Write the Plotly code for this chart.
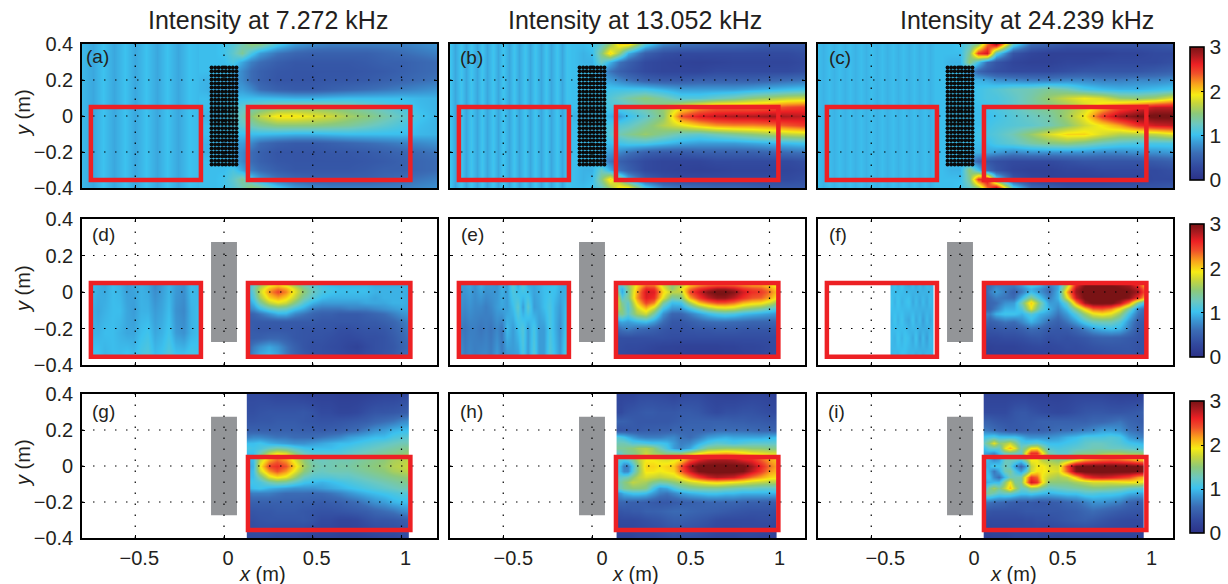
import plotly.graph_objects as go

TITLES = ["Intensity at 7.272 kHz", "Intensity at 13.052 kHz", "Intensity at 24.239 kHz"]
LETTERS = ["(a)", "(b)", "(c)", "(d)", "(e)", "(f)", "(g)", "(h)", "(i)"]
X_TICKS = [-0.5, 0, 0.5, 1]
Y_TICKS = [-0.4, -0.2, 0, 0.2, 0.4]
CBAR_TICKS = [0, 1, 2, 3]

JET = [[0, "#2b3187"], [0.1, "#324a9f"], [0.2, "#3b6cb5"], [0.28, "#3b9ad6"], [0.34, "#3cc2ef"],
       [0.42, "#6cc8c0"], [0.5, "#8cc97a"], [0.58, "#c9d63a"], [0.64, "#f7ec14"], [0.72, "#f9a51c"],
       [0.8, "#f0512a"], [0.87, "#ec2024"], [0.94, "#a81a1f"], [1, "#7a1315"]]

# top row grid
XT = [-0.8, -0.5, -0.2, -0.1, -0.05, 0, 0.05, 0.1, 0.15, 0.2, 0.3, 0.4, 0.5, 0.6, 0.7, 0.8, 0.9, 1.0, 1.1, 1.2]
YF = [0.4, 0.35, 0.3, 0.25, 0.2, 0.15, 0.1, 0.05, 0, -0.05, -0.1, -0.15, -0.2, -0.25, -0.3, -0.35, -0.4]

Z_A = [
 [1.0,.95,1.0,1.0,1.0,1.05,1.15,1.3,1.5,1.45,1.1,.85,.75,.7,.7,.7,.7,.7,.75,.8],
 [1.0,1.0,1.0,1.0,1.0,1.05,1.2,1.4,1.1,.85,.65,.55,.5,.5,.5,.5,.55,.6,.65,.7],
 [1.0,.95,1.0,1.0,1.0,1.0,1.1,.9,.7,.6,.48,.42,.42,.42,.42,.45,.5,.5,.55,.6],
 [1.0,1.0,1.0,1.0,1.0,1.0,.9,.75,.6,.5,.42,.4,.4,.4,.4,.42,.45,.5,.55,.6],
 [.95,1.0,1.0,.95,.95,.95,.85,.75,.6,.5,.4,.4,.4,.42,.42,.45,.5,.55,.6,.65],
 [1.0,1.0,1.0,.95,.9,.9,.85,.85,.75,.6,.5,.45,.45,.5,.55,.6,.65,.7,.75,.8],
 [1.0,1.0,1.0,1.0,.95,1.0,1.0,1.0,1.0,1.0,.98,.95,.95,.98,1.0,1.0,1.0,1.0,.97,.95],
 [1.0,1.0,1.0,1.0,1.0,1.0,1.1,1.2,1.3,1.35,1.45,1.5,1.5,1.45,1.4,1.3,1.2,1.1,1.0,.95],
 [1.0,.95,1.0,.95,.95,1.0,1.15,1.3,1.5,1.7,1.95,1.95,1.85,1.75,1.6,1.5,1.35,1.2,1.05,.95],
 [1.0,1.0,1.0,1.0,1.0,1.0,1.1,1.2,1.3,1.4,1.5,1.5,1.5,1.45,1.4,1.3,1.2,1.1,1.0,.95],
 [1.0,1.0,1.0,1.0,1.0,1.0,1.0,1.0,1.0,1.0,.98,.95,.95,.98,1.0,1.0,1.0,1.0,.97,.95],
 [1.0,1.0,1.0,.95,.95,.9,.85,.85,.75,.6,.5,.45,.45,.5,.55,.6,.65,.7,.75,.8],
 [.95,1.0,1.0,.95,.95,.95,.85,.75,.6,.5,.4,.4,.4,.42,.42,.45,.5,.55,.6,.65],
 [1.0,1.0,1.0,1.0,1.0,1.0,.9,.75,.6,.5,.42,.4,.4,.4,.4,.42,.45,.5,.55,.6],
 [1.0,.95,1.0,1.0,1.0,1.0,1.1,.9,.7,.6,.48,.42,.42,.42,.42,.45,.5,.5,.55,.6],
 [1.0,1.0,1.0,1.0,1.0,1.05,1.2,1.4,1.1,.85,.65,.55,.5,.5,.5,.5,.55,.6,.65,.7],
 [1.0,.95,1.0,1.0,1.0,1.05,1.15,1.3,1.55,1.45,1.1,.85,.75,.7,.7,.7,.7,.7,.75,.8],
]
Z_B = [
 [1.0,1.0,1.0,1.0,1.0,1.05,1.2,1.55,2.0,2.0,1.15,.75,.65,.6,.55,.55,.5,.45,.45,.45],
 [1.0,1.0,1.0,1.0,.95,1.0,1.45,2.0,1.55,.95,.5,.35,.3,.3,.3,.3,.3,.3,.3,.35],
 [1.0,1.0,1.0,1.0,.95,.95,1.25,.95,.65,.5,.3,.25,.22,.2,.22,.25,.25,.25,.25,.3],
 [1.0,1.0,1.0,1.0,1.0,1.0,.85,.65,.5,.42,.3,.25,.25,.25,.3,.3,.3,.3,.3,.35],
 [1.0,1.0,1.0,1.0,1.0,1.0,.9,.85,.75,.65,.5,.45,.45,.5,.5,.5,.5,.55,.6,.65],
 [1.0,1.0,1.0,1.0,1.0,1.0,1.0,1.05,1.05,1.05,1.05,.95,.85,.85,.85,.85,.9,.95,1.0,1.05],
 [1.0,1.0,1.0,1.0,1.0,1.0,1.05,1.15,1.25,1.35,1.5,1.35,1.15,1.15,1.25,1.35,1.5,1.6,1.7,1.75],
 [1.0,1.0,1.0,1.0,1.0,1.0,1.05,1.1,1.15,1.2,1.35,1.55,1.9,2.15,2.3,2.3,2.3,2.35,2.45,2.5],
 [1.0,1.0,1.0,.95,.95,1.0,1.0,.95,.85,1.0,1.2,1.5,2.4,2.65,2.75,2.8,2.8,2.85,2.8,2.75],
 [1.0,1.0,1.0,1.0,1.0,1.0,1.05,1.1,1.15,1.2,1.4,1.65,1.85,2.05,2.2,2.25,2.25,2.3,2.4,2.5],
 [1.0,1.0,1.0,1.0,1.0,1.0,1.05,1.15,1.3,1.4,1.55,1.4,1.25,1.2,1.3,1.4,1.5,1.6,1.7,1.75],
 [1.0,1.0,1.0,1.0,1.0,1.0,1.0,1.0,1.05,1.1,1.1,1.0,.9,.85,.85,.85,.9,.95,1.0,1.05],
 [1.0,1.0,1.0,1.0,1.0,1.0,.9,.85,.75,.65,.5,.45,.45,.5,.5,.5,.5,.55,.6,.65],
 [1.0,1.0,1.0,1.0,1.0,1.0,.85,.65,.5,.42,.3,.25,.25,.25,.3,.3,.3,.3,.3,.35],
 [1.0,1.0,1.0,1.0,.95,.95,1.25,.95,.65,.5,.3,.25,.22,.2,.22,.25,.25,.25,.25,.3],
 [1.0,1.0,1.0,1.0,.95,1.0,1.45,2.0,1.55,.95,.5,.35,.3,.3,.3,.3,.3,.3,.3,.35],
 [1.0,1.0,1.0,1.0,1.0,1.05,1.2,1.55,2.0,2.0,1.15,.75,.65,.6,.55,.55,.5,.45,.45,.45],
]
Z_C = [
 [1.0,1.0,1.0,1.0,1.0,1.05,1.2,1.5,2.3,2.85,1.2,.6,.5,.4,.4,.4,.4,.4,.4,.45],
 [1.0,1.0,1.0,1.0,1.0,1.0,1.4,2.5,2.7,1.2,.4,.25,.2,.2,.2,.2,.25,.25,.3,.3],
 [1.0,1.0,1.0,1.0,.95,.95,1.5,1.05,.6,.4,.25,.2,.2,.25,.25,.3,.3,.3,.3,.35],
 [1.0,1.0,1.0,1.0,1.0,1.0,.8,.55,.42,.35,.3,.3,.3,.35,.4,.4,.4,.4,.45,.5],
 [1.0,1.0,1.0,1.0,1.0,1.0,.95,.95,.9,.8,.75,.7,.7,.75,.75,.7,.7,.75,.75,.8],
 [1.0,1.0,1.0,1.0,1.0,1.0,1.0,1.05,1.1,1.15,1.25,1.3,1.4,1.3,1.1,1.0,.95,.95,1.0,1.05],
 [1.0,1.0,1.0,1.0,1.0,1.0,1.0,1.05,1.1,1.1,1.2,1.35,1.55,1.75,1.9,1.8,1.55,1.5,1.6,1.85],
 [1.0,1.0,1.0,1.0,1.0,1.0,1.0,1.0,1.05,1.1,1.2,1.35,1.45,1.55,1.75,2.05,2.4,2.6,2.75,2.75],
 [1.0,1.0,1.0,1.0,1.0,1.0,1.0,1.0,1.0,1.05,1.15,1.25,1.35,1.6,1.9,2.5,2.85,3.0,3.05,3.05],
 [1.0,1.0,1.0,1.0,1.0,1.0,1.0,1.0,1.05,1.1,1.15,1.2,1.3,1.5,1.75,1.95,2.2,2.55,2.7,2.75],
 [1.0,1.0,1.0,1.0,1.0,1.0,1.0,1.05,1.1,1.15,1.3,1.55,1.8,2.0,2.0,1.8,1.65,1.65,1.7,1.85],
 [1.0,1.0,1.0,1.0,1.0,1.0,1.0,1.0,1.0,1.1,1.2,1.35,1.45,1.5,1.4,1.25,1.15,1.1,1.1,1.1],
 [1.0,1.0,1.0,1.0,1.0,1.0,.95,.95,.9,.85,.75,.8,.8,.8,.8,.75,.75,.8,.8,.85],
 [1.0,1.0,1.0,1.0,1.0,1.0,.8,.55,.42,.35,.3,.3,.3,.35,.4,.4,.4,.4,.45,.5],
 [1.0,1.0,1.0,1.0,.95,.95,1.5,1.05,.6,.4,.25,.2,.2,.25,.25,.3,.3,.3,.3,.35],
 [1.0,1.0,1.0,1.0,1.0,1.0,1.4,2.5,2.7,1.2,.4,.25,.2,.2,.2,.2,.25,.25,.3,.3],
 [1.0,1.0,1.0,1.0,1.0,1.05,1.2,1.5,2.3,2.85,1.2,.6,.5,.4,.4,.4,.4,.4,.4,.45],
]

# faint ripples on the incident side of the top row
Y_RIP = [0.4, -0.4]
X_RIP_A = [-0.8,-0.74,-0.68,-0.62,-0.56,-0.5,-0.44,-0.38,-0.32,-0.26,-0.2,-0.14]
Z_RIP_A = [.98,.9,1.02,.9,1.02,.9,1.02,.9,1.02,.9,1.02,.98]
X_RIP_B = [-0.8,-0.77,-0.74,-0.71,-0.68,-0.65,-0.62,-0.59,-0.56,-0.53,-0.5,-0.47,-0.44,-0.41,-0.38,-0.35,-0.32,-0.29,-0.26,-0.23,-0.2,-0.17,-0.14,-0.11]
Z_RIP_B = [1.04,.9,1.04,.9,1.04,.9,1.04,.9,1.04,.9,1.04,.9,1.04,.9,1.04,.9,1.04,.9,1.04,.9,1.04,.9,1.04,1.0]
X_RIP_C = [-0.8,-0.77,-0.74,-0.71,-0.68,-0.65,-0.62,-0.59,-0.56,-0.53,-0.5,-0.47,-0.44,-0.41,-0.38,-0.35,-0.32,-0.29,-0.26,-0.23,-0.2,-0.17,-0.14,-0.11]
Z_RIP_C = [1.0,.95,1.0,.95,1.0,.95,1.0,.95,1.0,.95,1.0,.95,1.0,.95,1.0,.95,1.0,.95,1.0,.95,1.0,.95,1.0,1.0]

# middle row: left patches (stripes)
X_D_L = [-0.75,-0.71,-0.67,-0.63,-0.59,-0.55,-0.51,-0.47,-0.43,-0.39,-0.35,-0.31,-0.27,-0.23,-0.19,-0.15,-0.13]
Y_D_L = [0.05, -0.1, -0.22, -0.36]
Z_D_L = [
 [1.0,.95,.9,1.0,.95,.85,.9,.95,.9,.75,.85,.95,.85,.8,1.0,.95,.9],
 [.95,.9,.95,1.0,1.0,.9,.85,.95,.95,.85,.9,1.0,.8,.75,.95,1.0,.9],
 [.95,.95,1.0,1.0,.95,.9,.9,1.0,1.05,.9,.95,1.05,.85,.8,.95,1.0,.95],
 [1.05,1.05,.95,1.0,1.0,1.05,1.0,1.1,1.15,1.0,1.05,1.15,1.05,1.05,1.1,1.05,1.0],
]
X_E_L = [-0.75,-0.72,-0.69,-0.66,-0.63,-0.6,-0.57,-0.54,-0.51,-0.48,-0.45,-0.42,-0.39,-0.36,-0.33,-0.3,-0.27,-0.24,-0.21,-0.18,-0.15,-0.13]
Y_E_L = [0.05, -0.08, -0.2, -0.36]
Z_E_L = [
 [.85,.85,.9,.8,.95,.85,.85,.8,.95,.85,1.2,.9,1.2,.9,.9,.95,1.0,1.0,1.05,.95,.9,.9],
 [.8,.75,.8,.75,.75,.7,.75,.85,.9,.85,1.0,1.2,.85,1.2,.85,.9,1.0,1.1,.95,.85,1.0,.85],
 [.7,.65,.7,.7,.65,.7,.65,.75,.65,1.0,.85,1.0,1.15,.85,1.1,.85,.85,1.1,.95,.8,1.05,.85],
 [.85,.7,.75,.7,.75,.75,.7,.85,.7,.8,.85,.85,1.1,.85,1.15,.85,.85,1.15,1.0,.85,1.15,.95],
]
X_F_L = [-0.39,-0.37,-0.35,-0.33,-0.31,-0.29,-0.27,-0.25,-0.23,-0.21,-0.19,-0.17,-0.15]
Y_F_L = [0.05, -0.05, -0.15, -0.25, -0.36]
Z_F_L = [
 [.95,1.05,.95,1.05,.95,.9,1.0,.9,1.0,.9,1.0,.95,1.0],
 [1.05,.95,1.05,.95,1.0,1.05,.9,1.0,.9,1.0,.9,1.0,.95],
 [.95,1.05,.95,1.05,.95,.9,1.05,.9,1.0,.85,1.0,.9,1.0],
 [1.0,.95,1.05,.95,1.05,1.0,.9,1.05,.85,1.0,.85,1.0,.95],
 [.95,1.0,.95,1.05,1.0,.95,1.0,.9,1.0,.9,1.0,.95,1.0],
]

# middle row: right patches
X_R = [0.135,0.17,0.2,0.25,0.3,0.35,0.4,0.45,0.5,0.55,0.6,0.65,0.7,0.75,0.8,0.85,0.9,0.95,1.0,1.05]
Y_R = [0.05,0.02,0,-0.03,-0.06,-0.09,-0.12,-0.16,-0.2,-0.25,-0.3,-0.36]
Z_D_R = [
 [1.0,1.2,1.45,1.7,1.85,1.7,1.45,1.25,1.1,1.0,.95,.95,.95,.95,.95,.9,.9,.9,.9,.9],
 [1.0,1.3,1.7,2.1,2.3,2.15,1.8,1.45,1.25,1.1,1.05,1.0,1.0,1.0,1.0,.95,.95,.95,.95,.9],
 [.95,1.25,1.75,2.2,2.45,2.25,1.85,1.5,1.25,1.1,1.05,1.0,1.0,1.0,1.0,.95,.95,.95,.95,.9],
 [.9,1.15,1.6,2.0,2.15,2.0,1.7,1.35,1.15,1.0,.95,.95,.95,.95,.95,.9,.95,.95,.95,.9],
 [.8,1.0,1.35,1.7,1.85,1.75,1.45,1.15,.95,.85,.85,.85,.85,.85,.9,.9,.9,.95,.95,.9],
 [.7,.8,1.0,1.2,1.3,1.25,1.05,.9,.7,.65,.65,.65,.7,.7,.7,.75,.8,.85,.9,.9],
 [.5,.55,.65,.8,.95,.95,.75,.65,.55,.5,.5,.45,.45,.45,.5,.55,.6,.7,.8,.85],
 [.45,.45,.45,.45,.45,.45,.45,.45,.45,.42,.42,.42,.42,.42,.45,.45,.5,.55,.65,.75],
 [.45,.45,.42,.42,.42,.42,.42,.4,.4,.4,.4,.35,.35,.38,.4,.4,.42,.5,.6,.7],
 [.48,.48,.5,.55,.55,.5,.42,.4,.38,.38,.35,.32,.3,.32,.35,.35,.38,.45,.55,.65],
 [.55,.7,.8,.9,.8,.65,.5,.4,.35,.35,.32,.3,.25,.22,.3,.35,.38,.42,.52,.6],
 [.6,.8,.95,1.0,.9,.7,.55,.45,.38,.35,.35,.32,.3,.3,.35,.35,.4,.45,.55,.65],
]
Z_E_R = [
 [1.0,1.35,1.6,1.9,2.1,2.1,1.7,1.5,1.55,1.9,2.0,2.1,2.1,2.1,2.1,2.05,2.0,2.0,1.9,1.7],
 [1.35,.95,1.45,2.05,2.6,2.55,1.9,1.5,1.85,2.3,2.55,2.7,2.85,2.85,2.75,2.55,2.45,2.4,2.2,1.9],
 [1.7,.9,1.4,2.15,2.7,2.65,2.0,1.7,1.7,2.45,2.7,2.95,3.05,3.05,2.95,2.7,2.55,2.5,2.3,2.0],
 [2.0,1.15,1.4,2.2,2.65,2.55,1.85,1.35,1.45,2.15,2.5,2.75,2.9,2.9,2.75,2.55,2.4,2.35,2.15,1.85],
 [1.95,1.4,1.2,2.0,2.45,2.25,1.4,1.0,1.05,1.6,2.05,2.25,2.4,2.4,2.3,2.1,2.0,1.95,1.75,1.45],
 [1.7,1.5,1.15,1.75,2.05,1.7,1.05,.8,.8,1.05,1.3,1.55,1.7,1.75,1.7,1.55,1.45,1.35,1.2,1.05],
 [1.35,1.45,1.2,1.6,1.75,1.35,.8,.55,.55,.7,.85,1.0,1.1,1.15,1.1,1.0,.95,.9,.85,.8],
 [.8,.9,.85,.95,1.0,.85,.6,.42,.42,.48,.55,.6,.62,.62,.6,.58,.55,.55,.55,.55],
 [.55,.65,.7,.6,.55,.5,.42,.38,.38,.4,.42,.42,.45,.45,.45,.42,.42,.42,.42,.4],
 [.35,.35,.35,.35,.35,.35,.35,.33,.33,.33,.33,.33,.33,.33,.33,.33,.33,.33,.33,.33],
 [.32,.32,.3,.3,.28,.25,.22,.22,.2,.2,.2,.2,.2,.22,.22,.25,.25,.27,.3,.3],
 [.3,.3,.28,.25,.22,.2,.2,.2,.2,.18,.18,.18,.18,.2,.2,.22,.25,.27,.3,.3],
]
Z_F_R = [
 [.55,.6,.65,.7,.75,.95,1.25,1.1,.75,.9,1.55,2.5,2.95,3.0,3.0,2.95,2.9,2.8,2.4,1.8],
 [.55,.65,.8,.7,.6,.75,.95,.8,.6,.9,1.9,2.8,3.05,3.05,3.05,3.05,3.0,2.95,2.75,2.1],
 [.5,.7,.85,.7,.5,.7,1.0,.8,.6,.95,2.15,2.85,3.05,3.05,3.05,3.05,3.05,3.0,2.85,2.25],
 [.5,.6,.7,.65,.6,1.0,1.45,1.05,.7,.95,1.85,2.7,3.05,3.05,3.05,3.05,3.05,2.95,2.55,1.9],
 [.5,.55,.6,.8,.85,1.35,2.05,1.4,.85,.85,1.25,2.2,2.85,3.05,3.05,3.05,2.8,2.3,1.4,.9],
 [.5,.55,.7,.95,.95,1.15,1.85,1.25,.95,.75,1.0,1.5,2.0,2.35,2.4,2.25,1.9,1.35,.75,.55],
 [.75,.7,.95,1.05,1.05,.95,1.15,.95,.85,.65,.85,1.15,1.55,1.85,1.95,1.85,1.55,1.05,.65,.5],
 [.6,.5,.55,.65,.6,.75,.95,.8,.6,.5,.65,.85,1.1,1.25,1.3,1.3,1.15,.8,.5,.42],
 [.4,.4,.42,.45,.45,.5,.6,.55,.45,.42,.45,.55,.7,.85,.95,1.0,.95,.7,.45,.38],
 [.3,.3,.3,.33,.33,.35,.4,.42,.35,.38,.35,.38,.42,.48,.52,.52,.5,.45,.4,.35],
 [.2,.2,.22,.22,.22,.25,.28,.3,.28,.3,.33,.32,.35,.38,.4,.42,.42,.42,.38,.35],
 [.18,.18,.18,.18,.2,.2,.22,.22,.25,.25,.28,.3,.3,.3,.33,.35,.38,.4,.38,.35],
]

# bottom row
X_G = [0.13,0.16,0.2,0.25,0.3,0.35,0.4,0.45,0.5,0.55,0.6,0.65,0.7,0.75,0.8,0.85,0.9,0.95,1.0,1.04]
Y_B = [0.4,0.3,0.25,0.2,0.16,0.13,0.1,0.07,0.04,0,-0.03,-0.06,-0.09,-0.12,-0.15,-0.2,-0.25,-0.3,-0.4]
Z_G = [
 [.3,.3,.3,.28,.25,.25,.25,.22,.2,.2,.2,.18,.18,.18,.2,.22,.25,.25,.28,.3],
 [.35,.35,.38,.4,.4,.4,.4,.42,.38,.3,.3,.25,.25,.28,.35,.4,.4,.42,.45,.5],
 [.4,.4,.42,.42,.45,.45,.45,.42,.4,.38,.38,.4,.42,.45,.48,.55,.6,.65,.75,.8],
 [.5,.5,.5,.5,.5,.5,.5,.48,.48,.45,.48,.5,.55,.6,.7,.8,.85,.95,1.0,1.0],
 [.7,.75,.75,.7,.65,.65,.6,.6,.6,.65,.7,.75,.85,.9,.95,1.0,1.0,1.1,1.15,1.2],
 [1.0,1.0,1.05,.95,.9,.85,.8,.8,.85,.9,.95,1.0,1.0,1.05,1.1,1.15,1.2,1.25,1.3,1.3],
 [1.1,1.05,1.1,1.25,1.35,1.3,1.15,1.05,1.0,1.0,1.0,1.05,1.1,1.15,1.2,1.25,1.3,1.35,1.4,1.45],
 [1.0,1.0,1.3,1.7,1.9,1.8,1.5,1.25,1.15,1.15,1.15,1.15,1.2,1.25,1.3,1.35,1.4,1.45,1.5,1.55],
 [.95,1.0,1.7,2.1,2.3,2.15,1.8,1.5,1.3,1.25,1.3,1.3,1.3,1.35,1.4,1.45,1.5,1.6,1.65,1.7],
 [.9,.95,1.9,2.45,2.55,2.4,2.0,1.6,1.35,1.3,1.3,1.35,1.35,1.4,1.45,1.5,1.55,1.65,1.7,1.75],
 [.95,1.0,1.75,2.2,2.4,2.2,1.85,1.5,1.3,1.25,1.3,1.3,1.3,1.35,1.4,1.45,1.5,1.6,1.65,1.7],
 [1.0,1.0,1.35,1.8,1.95,1.85,1.55,1.25,1.15,1.15,1.15,1.2,1.2,1.25,1.3,1.35,1.4,1.45,1.5,1.55],
 [1.05,1.05,1.1,1.3,1.4,1.35,1.2,1.05,1.0,.95,1.0,1.05,1.1,1.15,1.2,1.25,1.3,1.35,1.4,1.45],
 [.95,1.0,1.05,.95,.9,.85,.8,.8,.8,.85,.9,.95,1.0,1.05,1.1,1.15,1.2,1.25,1.3,1.3],
 [.65,.7,.7,.7,.65,.6,.6,.6,.58,.6,.65,.72,.8,.88,.95,1.0,1.05,1.1,1.15,1.15],
 [.5,.5,.5,.5,.5,.5,.5,.48,.48,.45,.48,.5,.55,.6,.7,.8,.85,.95,1.0,1.0],
 [.4,.4,.42,.42,.45,.45,.45,.42,.4,.38,.38,.4,.42,.45,.48,.55,.6,.65,.75,.8],
 [.35,.35,.38,.4,.4,.4,.4,.42,.38,.3,.3,.25,.25,.28,.35,.4,.4,.42,.45,.5],
 [.3,.3,.3,.28,.25,.25,.25,.22,.2,.2,.2,.18,.18,.18,.2,.22,.25,.25,.28,.3],
]
X_H = [0.14,0.16,0.18,0.2,0.23,0.26,0.3,0.34,0.38,0.42,0.46,0.5,0.55,0.6,0.65,0.7,0.75,0.8,0.85,0.9,0.95,1.0,1.04]
Z_H = [
 [.25,.25,.25,.25,.25,.3,.3,.3,.3,.28,.25,.28,.3,.3,.25,.22,.2,.2,.22,.25,.25,.22,.2],
 [.3,.3,.35,.38,.4,.42,.45,.45,.42,.42,.42,.45,.45,.42,.35,.3,.35,.35,.38,.38,.35,.32,.3],
 [.55,.5,.5,.48,.45,.42,.42,.42,.42,.42,.45,.48,.5,.5,.5,.5,.5,.48,.48,.45,.45,.42,.42],
 [.4,.4,.42,.42,.45,.45,.48,.48,.5,.5,.55,.55,.55,.55,.55,.6,.6,.6,.6,.58,.55,.55,.5],
 [1.15,1.1,1.05,.95,.85,.75,.7,.7,.7,.75,.75,.65,.6,.7,.85,.9,.95,.9,.9,.9,.9,.95,1.0],
 [1.3,1.3,1.3,1.25,1.15,1.15,1.1,1.05,1.05,1.0,.85,.7,.75,.95,1.1,1.2,1.15,1.1,1.15,1.2,1.2,1.2,1.2],
 [1.4,1.4,1.4,1.45,1.5,1.6,1.65,1.55,1.3,1.1,.85,.75,.9,1.2,1.45,1.5,1.55,1.55,1.55,1.5,1.5,1.45,1.45],
 [1.2,1.25,1.35,1.4,1.45,1.55,1.75,1.6,1.55,1.45,1.5,1.5,1.7,1.9,2.05,2.1,2.15,2.1,2.0,1.9,1.85,1.8,1.8],
 [1.2,1.15,1.15,1.2,1.4,1.7,1.9,1.9,1.85,1.8,1.85,1.95,2.35,2.6,2.75,2.8,2.8,2.75,2.6,2.55,2.35,2.15,2.05],
 [1.1,.95,.7,.7,1.1,1.55,2.0,2.0,1.95,2.0,2.05,2.4,2.85,3.05,3.05,3.05,3.05,3.05,3.05,2.85,2.6,2.3,2.15],
 [1.1,.95,.75,.75,1.15,1.55,1.95,1.95,1.9,1.95,2.0,2.35,2.7,3.0,3.05,3.05,3.05,3.05,3.0,2.75,2.5,2.2,2.1],
 [1.2,1.2,1.25,1.3,1.5,1.7,1.8,1.75,1.7,1.75,1.8,1.95,2.25,2.5,2.7,2.8,2.75,2.7,2.5,2.3,2.15,2.0,1.95],
 [1.3,1.35,1.45,1.55,1.7,1.65,1.6,1.45,1.35,1.4,1.5,1.6,1.75,1.85,1.95,2.0,1.95,1.9,1.85,1.75,1.7,1.65,1.65],
 [1.25,1.3,1.4,1.45,1.5,1.5,1.45,1.1,.85,.9,1.1,1.25,1.35,1.4,1.4,1.4,1.35,1.3,1.25,1.25,1.2,1.2,1.2],
 [.8,.85,.95,1.0,1.05,1.05,1.0,.85,.7,.65,.75,.85,.95,1.0,1.05,1.05,1.0,1.0,.95,.95,.95,.95,.95],
 [.55,.55,.55,.52,.5,.5,.48,.45,.42,.42,.45,.48,.5,.52,.55,.55,.55,.55,.52,.5,.5,.48,.48],
 [.4,.4,.42,.42,.45,.45,.5,.5,.52,.55,.58,.58,.55,.52,.5,.48,.45,.42,.4,.38,.38,.38,.35],
 [.28,.3,.3,.3,.3,.32,.35,.38,.4,.45,.48,.48,.45,.42,.38,.32,.3,.3,.3,.3,.32,.32,.28],
 [.2,.2,.2,.2,.22,.25,.25,.25,.28,.3,.32,.3,.3,.28,.25,.22,.22,.22,.25,.25,.22,.2,.18],
]
X_I = [0.135,0.16,0.19,0.22,0.25,0.28,0.31,0.34,0.37,0.4,0.43,0.46,0.5,0.55,0.6,0.65,0.7,0.75,0.8,0.85,0.9,0.95,1.0,1.035]
Z_I = [
 [.22,.22,.22,.22,.22,.22,.22,.22,.22,.2,.2,.2,.2,.2,.22,.25,.25,.25,.25,.22,.2,.2,.2,.2],
 [.3,.3,.3,.3,.3,.35,.4,.42,.42,.38,.35,.32,.3,.28,.3,.35,.4,.42,.42,.4,.4,.42,.45,.5],
 [.5,.5,.45,.42,.4,.4,.42,.45,.45,.45,.48,.5,.5,.5,.5,.5,.5,.55,.55,.6,.65,.55,.5,.45],
 [.7,.65,.6,.55,.5,.45,.45,.45,.48,.5,.5,.5,.55,.6,.6,.65,.7,.75,.85,.85,.8,.65,.6,.55],
 [1.05,1.1,1.15,1.05,1.05,1.05,1.05,.95,.85,.8,.8,.8,.8,.85,.95,1.0,1.1,1.1,1.1,1.15,1.1,.85,.75,.7],
 [1.25,1.5,1.85,1.5,1.6,1.75,1.5,1.15,1.1,1.15,1.2,1.1,1.0,1.0,1.05,1.1,1.2,1.25,1.25,1.2,1.15,1.05,1.0,.95],
 [1.0,1.2,1.25,1.2,1.85,2.1,1.85,1.3,1.5,1.9,1.95,1.55,1.15,1.1,1.15,1.2,1.25,1.3,1.3,1.25,1.25,1.2,1.15,1.1],
 [.9,.85,.75,1.0,1.3,1.35,1.3,1.2,1.95,2.55,2.55,2.0,1.35,1.2,1.2,1.4,1.45,1.45,1.55,1.6,1.6,1.55,1.55,1.5],
 [1.05,.95,.75,.85,1.25,1.3,1.3,1.2,1.55,1.95,1.9,1.65,1.55,1.45,1.5,1.75,2.05,2.15,2.25,2.3,2.25,2.15,2.0,1.95],
 [.95,.95,1.1,1.05,1.3,1.2,.85,.55,.85,1.7,1.9,1.95,1.8,1.75,2.45,3.0,3.05,3.05,3.05,3.05,3.05,3.05,3.0,2.95],
 [1.1,.95,.65,.9,1.3,1.4,1.1,.85,1.15,1.75,1.95,1.95,1.85,1.8,2.35,2.95,3.05,3.05,3.05,3.05,3.05,3.05,3.0,2.95],
 [1.0,1.05,.75,.6,1.0,1.3,1.3,1.35,2.0,2.5,2.35,1.9,1.7,1.6,1.7,2.05,2.5,2.65,2.7,2.65,2.55,2.45,2.2,2.1],
 [.9,.95,1.0,1.0,1.5,1.9,1.4,1.4,2.1,2.7,2.55,2.0,1.5,1.5,1.5,1.6,1.7,1.8,1.8,1.8,1.85,1.9,1.9,1.85],
 [.95,1.4,1.6,1.4,1.7,2.1,1.65,1.25,1.3,1.55,1.5,1.35,1.2,1.25,1.3,1.35,1.4,1.45,1.45,1.4,1.35,1.25,1.2,1.15],
 [1.3,1.4,1.3,1.2,1.25,1.25,1.15,1.05,1.05,1.1,1.05,1.0,.95,1.0,1.05,1.05,1.15,1.15,1.1,1.1,1.05,.95,.9,.9],
 [.7,.65,.6,.58,.55,.5,.48,.45,.45,.45,.42,.42,.45,.48,.55,.6,.7,.8,.8,.75,.7,.55,.5,.5],
 [.4,.4,.38,.38,.38,.38,.38,.4,.42,.42,.42,.42,.42,.42,.45,.48,.55,.6,.55,.5,.45,.42,.4,.38],
 [.32,.3,.3,.3,.3,.3,.3,.3,.32,.32,.35,.35,.35,.38,.42,.45,.48,.45,.4,.35,.32,.3,.3,.3],
 [.18,.18,.2,.2,.2,.22,.25,.25,.25,.25,.25,.22,.22,.2,.2,.2,.2,.2,.2,.22,.22,.22,.22,.22],
]

LATTICE_X = [-0.07,-0.05,-0.03,-0.01,0.01,0.03,0.05,0.07]
LATTICE_Y = [0.27,0.248,0.225,0.203,0.18,0.158,0.135,0.113,0.09,0.068,0.045,0.023,0,
             -0.023,-0.045,-0.068,-0.09,-0.113,-0.135,-0.158,-0.18,-0.203,-0.225,-0.248,-0.27]
RECT_LEFT_X = [-0.75, -0.13]
RECT_RIGHT_X = [0.135, 1.05]
RECT_Y = [0.05, -0.355]
GRAY_X = [-0.073, 0.073]
GRAY_Y = [0.274, -0.274]

W, H = 1228, 584
COLS = [(82, 437), (450, 805), (818, 1173)]
ROWS = [(44, 188), (219, 365), (394, 538)]
CBARS = [(47, 180), (224, 357), (401, 533)]
TITLE_X = [268, 635, 1027]
XLABEL_X = [262, 635, 1013]
XTICK_SHIFT = [4, 10, 14]
LETTER_DX = [3, 9, 10, 9, 10, 10, 9, 9, 9]
LETTER_DY = [13, 14, 14, 15, 15, 15, 17, 17, 17]
FONT = "Liberation Sans"
INK = "#231f20"
RED = "#ed2024"
EPS = 0.001

HEATS = {
    0: [(XT, YF, Z_A), (X_RIP_A, Y_RIP, [Z_RIP_A, Z_RIP_A])],
    1: [(XT, YF, Z_B), (X_RIP_B, Y_RIP, [Z_RIP_B, Z_RIP_B])],
    2: [(XT, YF, Z_C), (X_RIP_C, Y_RIP, [Z_RIP_C, Z_RIP_C])],
    3: [(X_D_L, Y_D_L, Z_D_L), (X_R, Y_R, Z_D_R)],
    4: [(X_E_L, Y_E_L, Z_E_L), (X_R, Y_R, Z_E_R)],
    5: [(X_F_L, Y_F_L, Z_F_L), (X_R, Y_R, Z_F_R)],
    6: [(X_G, Y_B, Z_G)],
    7: [(X_H, Y_B, Z_H)],
    8: [(X_I, Y_B, Z_I)],
}


def tight(xs, ys, zs):
    """Repeat the edge cells very close by, so the patch stops at its outer samples."""
    xs2 = [xs[0] - EPS] + list(xs) + [xs[-1] + EPS]
    ys2 = [ys[0] - EPS] + list(ys) + [ys[-1] + EPS]
    rows = [[r[0]] + list(r) + [r[-1]] for r in zs]
    return xs2, ys2, [rows[0]] + rows + [rows[-1]]


fig = go.Figure()
shapes, annotations = [], []
layout = {}
for i in range(9):
    r, c = i // 3, i % 3
    suffix = "" if i == 0 else str(i + 1)
    xname, yname = "x" + suffix, "y" + suffix
    layout["xaxis" + suffix] = dict(
        domain=[COLS[c][0] / W, COLS[c][1] / W], range=[-0.8, 1.2], anchor=yname,
        tickvals=X_TICKS, showticklabels=r == 2, ticks="inside", ticklen=3, tickwidth=1.2, tickcolor="#000",
        showgrid=False, zeroline=False, showline=True, linecolor="#000", linewidth=1.6, mirror="allticks",
        tickfont=dict(family=FONT, size=20, color=INK), ticklabelstandoff=1, ticklabelshift=XTICK_SHIFT[c])
    layout["yaxis" + suffix] = dict(
        domain=[1 - ROWS[r][1] / H, 1 - ROWS[r][0] / H], range=[-0.4, 0.4], anchor=xname,
        tickvals=Y_TICKS, showticklabels=c == 0, ticks="inside", ticklen=3, tickwidth=1.2, tickcolor="#000",
        showgrid=False, zeroline=False, showline=True, linecolor="#000", linewidth=1.6, mirror="allticks",
        tickfont=dict(family=FONT, size=20, color=INK), ticklabelstandoff=3)

    for k, (hx, hy, hz) in enumerate(HEATS[i]):
        show = c == 2 and k == 0
        cb = None
        if show:
            top, bot = CBARS[r]
            cb = dict(x=1190 / W, xanchor="left", xpad=0, ypad=0, y=1 - bot / H, yanchor="bottom",
                      lenmode="pixels", len=bot - top, thicknessmode="pixels", thickness=14,
                      tickvals=CBAR_TICKS, ticks="inside", ticklen=3, tickcolor="#000",
                      outlinecolor="#000", outlinewidth=1.6, borderwidth=0,
                      tickfont=dict(family=FONT, size=21, color=INK))
        tx, ty, tz = tight(hx, hy[::-1], hz[::-1])
        fig.add_trace(go.Heatmap(x=tx, y=ty, z=tz, zmin=0, zmax=3, colorscale=JET,
                                 zsmooth="best", xaxis=xname, yaxis=yname, showscale=show,
                                 colorbar=cb, hoverinfo="skip"))

    if r == 0:
        fig.add_trace(go.Scatter(
            x=[lx for ly in LATTICE_Y for lx in LATTICE_X],
            y=[ly for ly in LATTICE_Y for lx in LATTICE_X],
            mode="markers", marker=dict(size=4, color="#0a0a0a"), xaxis=xname, yaxis=yname,
            showlegend=False, hoverinfo="skip"))
    else:
        shapes.append(dict(type="rect", xref=xname, yref=yname, x0=GRAY_X[0], x1=GRAY_X[1], y0=GRAY_Y[0], y1=GRAY_Y[1],
                           fillcolor="#939598", line_width=0, layer="above"))
    dash = "1.5px,9.5px"
    for t in X_TICKS:
        shapes.append(dict(type="line", xref=xname, yref=yname, x0=t, x1=t, y0=-0.4, y1=0.4,
                           line=dict(color="#000", width=1.2, dash=dash), layer="above"))
    for t in Y_TICKS[1:-1]:
        shapes.append(dict(type="line", xref=xname, yref=yname, x0=-0.8, x1=1.2, y0=t, y1=t,
                           line=dict(color="#000", width=1.2, dash=dash), layer="above"))
    rects = [RECT_RIGHT_X] if r == 2 else [RECT_LEFT_X, RECT_RIGHT_X]
    for rx in rects:
        shapes.append(dict(type="rect", xref=xname, yref=yname, x0=rx[0], x1=rx[1], y0=RECT_Y[0], y1=RECT_Y[1],
                           line=dict(color=RED, width=4.5), fillcolor="rgba(0,0,0,0)", layer="above"))
    annotations.append(dict(text=LETTERS[i], xref=xname + " domain", yref=yname + " domain", x=0, y=1,
                            xanchor="left", yanchor="middle", showarrow=False, borderpad=0,
                            font=dict(family=FONT, size=19, color=INK), xshift=LETTER_DX[i], yshift=-LETTER_DY[i]))
    if r == 0:
        annotations.append(dict(text=TITLES[c], xref="paper", yref="paper", x=TITLE_X[c] / W,
                                y=1 - 20 / H, xanchor="center", yanchor="middle", showarrow=False,
                                font=dict(family=FONT, size=25, color=INK)))
    if c == 0:
        annotations.append(dict(text="<i>y</i> (m)", xref="paper", yref="paper", x=23 / W,
                                y=1 - ((ROWS[r][0] + ROWS[r][1]) / 2 - 3) / H, textangle=-90, xanchor="center",
                                yanchor="middle", showarrow=False, font=dict(family=FONT, size=20, color=INK)))
    if r == 2:
        annotations.append(dict(text="<i>x</i> (m)", xref="paper", yref="paper", x=XLABEL_X[c] / W,
                                y=1 - 574 / H, xanchor="center", yanchor="middle", showarrow=False,
                                font=dict(family=FONT, size=20, color=INK)))

fig.update_layout(width=W, height=H, margin=dict(l=0, r=0, t=0, b=0, autoexpand=False),
                  paper_bgcolor="white", plot_bgcolor="white",
                  showlegend=False, shapes=shapes, annotations=annotations, **layout)
fig.write_html("out.html", config={"displayModeBar": False},
               post_script="document.body.style.margin='0';document.body.style.overflow='hidden';")
